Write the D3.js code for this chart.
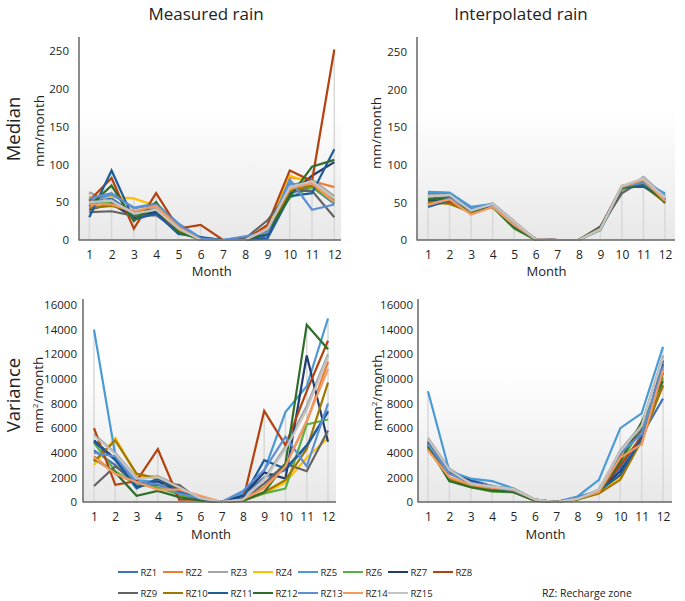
<!DOCTYPE html>
<html><head><meta charset="utf-8">
<script src="https://cdn.jsdelivr.net/npm/d3@7"></script>
<style>
html,body{margin:0;padding:0;background:#fff;}
svg{display:block;font-family:"Open Sans","Noto Sans",sans-serif;}
</style></head>
<body>
<svg id="chart" width="685" height="601"></svg>
<script>
const months = [1,2,3,4,5,6,7,8,9,10,11,12];
const zones = ["RZ1","RZ2","RZ3","RZ4","RZ5","RZ6","RZ7","RZ8","RZ9","RZ10","RZ11","RZ12","RZ13","RZ14","RZ15"];
const zoneColors = ["#3f72bd","#ed7d31","#a5a5a5","#ffc000","#4a9ad6","#5cb043","#1f3d70","#b4420e","#636363","#a07800","#1d5d9a","#2f6e2a","#5f8fd3","#f29a62","#c4c4c4"];
const medianTicks = [0,50,100,150,200,250];
const varianceTicks = [0,2000,4000,6000,8000,10000,12000,14000,16000];

const medianMeasured = [
 [50,55,35,42,12,1,0,0,5,62,70,48],
 [45,50,35,42,15,1,0,0,18,83,78,70],
 [63,50,38,42,18,0,0,0,15,72,80,58],
 [57,57,55,45,15,0,0,0,12,85,75,55],
 [52,60,43,48,22,3,0,4,12,75,70,50],
 [48,50,33,38,12,0,0,0,12,56,70,50],
 [40,48,30,37,10,3,0,0,8,60,85,103],
 [52,82,15,62,15,20,0,0,20,92,78,252],
 [37,38,32,33,12,0,0,2,26,65,65,30],
 [42,45,38,40,13,0,0,0,10,65,72,52],
 [30,92,27,35,8,4,0,0,2,58,62,120],
 [45,72,25,50,10,1,0,0,10,57,97,106],
 [55,62,42,47,20,2,0,5,10,80,40,47],
 [47,47,38,45,17,0,0,0,15,68,75,50],
 [50,52,35,40,15,0,0,0,15,70,78,55]
];
const medianInterpolated = [
 [62,62,43,47,20,1,0,0,14,70,72,61],
 [48,52,35,44,20,1,0,0,15,70,79,52],
 [60,60,40,49,25,1,0,0,14,64,84,58],
 [50,50,36,45,20,1,0,0,15,71,76,53],
 [64,63,44,48,22,1,0,0,13,70,78,62],
 [52,50,37,44,15,0,0,0,14,68,73,53],
 [52,56,41,46,19,1,0,0,17,71,74,54],
 [48,50,37,45,20,1,0,0,15,72,75,53],
 [55,57,40,46,22,1,0,0,18,62,80,49],
 [50,48,37,44,18,0,0,0,15,70,72,50],
 [44,53,40,46,18,1,0,0,15,70,71,54],
 [54,55,38,44,16,0,0,0,16,70,74,51],
 [46,55,42,46,20,1,0,0,14,71,76,56],
 [47,54,34,44,20,1,0,0,15,71,80,52],
 [58,60,39,48,24,1,0,0,14,72,82,56]
];
const varianceMeasured = [
 [4200,3000,1300,1400,800,200,0,600,2000,2600,4500,7400],
 [3700,2300,1500,1100,1000,400,0,200,1200,3000,6500,11400],
 [5500,4000,2000,2100,1300,200,0,200,1900,4500,7800,12000],
 [3000,5200,2200,2000,500,100,0,100,700,1600,3600,5200],
 [14000,3800,1800,1600,700,200,0,700,2500,7300,9400,14900],
 [4800,2500,1400,1200,600,150,0,100,700,1100,6300,6700],
 [5000,3500,1200,1700,800,200,0,500,2400,1900,11900,4900],
 [6000,1400,1700,4300,200,200,0,100,7400,4600,9000,13100],
 [1300,2900,1600,1400,1400,100,0,200,1500,3100,2500,5800],
 [3300,5000,2300,1900,1100,200,0,100,800,1800,4300,9700],
 [4900,3400,1100,1900,900,200,0,300,3400,2700,4600,7300],
 [3500,2400,500,900,400,100,0,100,800,3100,14400,12400],
 [4000,3700,1500,1500,700,300,0,900,2600,5300,2900,8000],
 [3600,2300,1600,1000,1000,500,0,200,1100,2900,6600,10800],
 [5400,3900,1900,2000,1200,300,0,200,1800,4300,7500,11800]
];
const varianceInterpolated = [
 [4900,2500,1800,1300,950,150,0,400,900,2800,5400,8400],
 [4300,2000,1400,1100,1000,200,0,250,800,3700,4700,10800],
 [5200,2700,1600,1300,1100,200,0,250,1000,4200,6300,11900],
 [4400,1800,1300,1000,850,150,0,200,700,2000,5100,10000],
 [9000,2500,1900,1700,1100,200,0,450,1800,6000,7200,12600],
 [4500,1700,1200,850,800,100,0,200,800,3200,6000,10100],
 [4800,2400,1700,1200,900,150,0,300,900,2500,5000,11500],
 [4500,1900,1300,1000,900,150,0,250,800,3000,5300,10500],
 [5000,2400,1500,1100,900,200,0,250,1000,3900,5800,9400],
 [4400,1900,1300,1000,850,100,0,200,700,1800,5000,9500],
 [4700,2300,1600,1100,850,150,0,300,900,2200,5200,11200],
 [4600,1700,1200,900,800,100,0,200,800,3300,6500,9800],
 [4700,2300,1600,1200,950,200,0,350,900,4000,5500,11000],
 [4200,2000,1400,1150,1000,200,0,250,800,3600,4700,10700],
 [5100,2600,1500,1250,1050,200,0,250,1000,4100,6200,11700]
];

const svg = d3.select("#chart");
const defs = svg.append("defs");
const grad = defs.append("linearGradient").attr("id","bg").attr("x1",0).attr("y1",0).attr("x2",0).attr("y2",1);
grad.append("stop").attr("offset","0%").attr("stop-color","#ffffff");
grad.append("stop").attr("offset","35%").attr("stop-color","#ffffff");
grad.append("stop").attr("offset","100%").attr("stop-color","#e8e8e8");

const panels = [
 {data: medianMeasured, ticks: medianTicks, max:250, ax:79, base:240, top:51, axTop:37, x1:89.3, x12:334.3, xEnd:341, tickRight:69, unitX:44, unitY:131, sup:false, monthDy:36},
 {data: medianInterpolated, ticks: medianTicks, max:250, ax:417, base:240, top:52, axTop:37, x1:428, x12:665, xEnd:675, tickRight:407, unitX:381, unitY:133, sup:false, monthDy:36},
 {data: varianceMeasured, ticks: varianceTicks, max:16000, ax:83, base:502, top:305, axTop:299, x1:94, x12:328, xEnd:336, tickRight:77, unitX:43, unitY:395, sup:true, monthDy:37},
 {data: varianceInterpolated, ticks: varianceTicks, max:16000, ax:418, base:502, top:305, axTop:299, x1:428, x12:663, xEnd:672, tickRight:413, unitX:382, unitY:393, sup:true, monthDy:37}
];

panels.forEach(p => {
  const g = svg.append("g");
  const x = d3.scaleLinear().domain([1,12]).range([p.x1, p.x12]);
  const y = d3.scaleLinear().domain([0,p.max]).range([p.base, p.top]);
  g.append("rect").attr("x",p.ax).attr("y",p.axTop).attr("width",p.xEnd-p.ax).attr("height",p.base-p.axTop).attr("fill","url(#bg)");
  months.forEach((m,i) => {
    const mx = d3.max(p.data, s => s[i]);
    g.append("line").attr("x1",x(m)).attr("x2",x(m)).attr("y1",p.base).attr("y2",y(mx))
      .attr("stroke","#d8d8d8").attr("stroke-width",1.5);
  });
  const line = d3.line().x((d,i)=>x(months[i])).y(d=>y(d));
  p.data.forEach((s,k) => {
    g.append("path").attr("d",line(s)).attr("fill","none").attr("stroke",zoneColors[k])
      .attr("stroke-width",2.2).attr("stroke-linejoin","miter");
  });
  g.append("line").attr("x1",p.ax).attr("x2",p.ax).attr("y1",p.axTop).attr("y2",p.base+0.5).attr("stroke","#666").attr("stroke-width",1.5);
  g.append("line").attr("x1",p.ax).attr("x2",p.xEnd).attr("y1",p.base).attr("y2",p.base).attr("stroke","#666").attr("stroke-width",1.5);
  const yAxis = d3.axisLeft(y).tickValues(p.ticks).tickSize(0).tickPadding(0).tickFormat(d3.format("d"));
  const ya = g.append("g").attr("transform",`translate(${p.tickRight},0)`).call(yAxis);
  ya.select(".domain").remove();
  ya.selectAll("text").attr("font-size",11.5).attr("fill","#222").attr("font-family","'Open Sans',sans-serif");
  const xAxis = d3.axisBottom(x).tickValues(months).tickSize(0).tickPadding(0).tickFormat(d3.format("d"));
  const xa = g.append("g").attr("transform",`translate(0,${p.base+10})`).call(xAxis);
  xa.select(".domain").remove();
  xa.selectAll("text").attr("font-size",12).attr("fill","#222").attr("font-family","'Open Sans',sans-serif");
  g.append("text").attr("x",(p.x1+p.x12)/2).attr("y",p.base+p.monthDy).attr("text-anchor","middle")
    .attr("font-size",13).attr("fill","#222").text("Month");
  const u = g.append("text").attr("transform",`translate(${p.unitX},${p.unitY}) rotate(-90)`)
    .attr("text-anchor","middle").attr("font-size",13.5).attr("fill","#222");
  if (p.sup) {
    u.append("tspan").text("mm");
    u.append("tspan").attr("dy",-5).attr("font-size",8).text("2");
    u.append("tspan").attr("dy",5).text("/month");
  } else {
    u.text("mm/month");
  }
});

svg.append("text").attr("x",206).attr("y",20).attr("text-anchor","middle").attr("font-size",17).attr("fill","#222").text("Measured rain");
svg.append("text").attr("x",521).attr("y",20).attr("text-anchor","middle").attr("font-size",17).attr("fill","#222").text("Interpolated rain");
svg.append("text").attr("transform","translate(20,129) rotate(-90)").attr("text-anchor","middle").attr("font-size",18.5).attr("fill","#222").text("Median");
svg.append("text").attr("transform","translate(20,395) rotate(-90)").attr("text-anchor","middle").attr("font-size",18.5).attr("fill","#222").text("Variance");

const leg = svg.append("g");
zones.forEach((z,i) => {
  const row = i < 8 ? 0 : 1;
  const col = i < 8 ? i : i - 8;
  const lx = 118 + col*45;
  const ly = row === 0 ? 572 : 593;
  leg.append("line").attr("x1",lx).attr("x2",lx+20).attr("y1",ly).attr("y2",ly).attr("stroke",zoneColors[i]).attr("stroke-width",2);
  leg.append("text").attr("x",lx+22.5).attr("y",ly+3.5).attr("font-size",9.5).attr("fill","#222").text(z);
});
leg.append("text").attr("x",542).attr("y",597).attr("font-size",10.5).attr("fill","#222").text("RZ: Recharge zone");
</script>
</body></html>
